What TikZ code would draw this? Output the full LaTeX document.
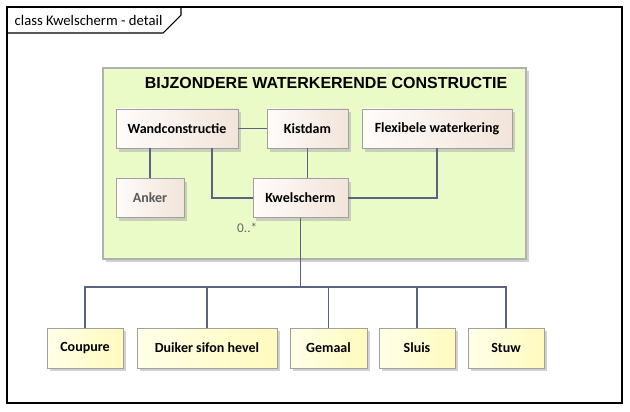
\documentclass[tikz,border=0pt]{standalone}
\usepackage{fontspec}
\setmainfont{Carlito}
\newfontfamily\pkgfont{Liberation Sans}
\usetikzlibrary{shadows}
\definecolor{pkggreen}{RGB}{235,251,200}
\definecolor{pkgline}{RGB}{176,176,176}
\definecolor{clsleft}{RGB}{255,252,250}
\definecolor{clsright}{RGB}{242,228,218}
\definecolor{ylwleft}{RGB}{255,255,232}
\definecolor{ylwright}{RGB}{255,250,190}
\definecolor{clsline}{RGB}{160,160,160}
\definecolor{link}{RGB}{90,100,128}

\begin{document}
\begin{tikzpicture}[x=0.75pt,y=-0.75pt,
  cls/.style={draw=clsline, shading=axis, shading angle=90, left color=clsleft, right color=clsright,
    minimum height=29.5pt, inner sep=0pt, font=\fontsize{10.5}{12}\selectfont\bfseries,
    drop shadow={shadow xshift=2.5pt, shadow yshift=-2.5pt, fill=black!30, opacity=0.6}},
  leaf/.style={cls, left color=ylwleft, right color=ylwright, minimum height=30pt},
  link/.style={draw=link, line width=0.8pt}]
\useasboundingbox (0,0) rectangle (630,411);

% frame
\draw [line width=0.8pt] (7,7) rectangle (622,403);
\draw [line width=0.8pt] (7,33) -- (163,33) -- (181,15) -- (181,7);
\node [anchor=west, font=\fontsize{11}{13}\selectfont] (frametitle) at (10,20) {class Kwelscherm - detail};

% package
\draw [pkgline, fill=pkggreen, line width=0.8pt, drop shadow={shadow xshift=2.5pt, shadow yshift=-2.5pt, fill=black!30, opacity=0.6}] (103,68) rectangle (526,259);
\node [font=\pkgfont\fontsize{12}{14}\selectfont\bfseries] (bwc) at (326,83) {BIJZONDERE WATERKERENDE CONSTRUCTIE};

% classes
\node [cls, minimum width=91.5pt] (wand) at (177,128.5) {Wandconstructie};
\node [cls, minimum width=60.75pt] (kistdam) at (307.5,128.5) {Kistdam};
\node [cls, minimum width=112.5pt] (flex) at (437,128.5) {Flexibele waterkering};
\node [cls, minimum width=51pt, text=black!65] (anker) at (150,198) {Anker};
\node [cls, minimum width=71.25pt] (kwel) at (300.5,198) {Kwelscherm};

\node [leaf, minimum width=57pt] (coupure) at (85,348) {Coupure};
\node [leaf, minimum width=105pt] (duiker) at (207,348) {Duiker sifon hevel};
\node [leaf, minimum width=57.75pt] (gemaal) at (328.5,348) {Gemaal};
\node [leaf, minimum width=57pt] (sluis) at (417,348) {Sluis};
\node [leaf, minimum width=57pt] (stuw) at (506,348) {Stuw};

% connectors
\draw [link] (wand) -- (kistdam);
\draw [link] (anker.north |- wand.south) -- (anker.north);
\draw [link] (wand.south) ++(35,0) |- (kwel.west);
\draw [link] (kistdam) -- (kistdam |- kwel.north);
\draw [link] (flex.south) |- (kwel.east);

\coordinate (split) at (300.5,287);
\draw [link] (kwel.south) -- (split);
\foreach \leafnode in {coupure,duiker,gemaal,sluis,stuw}
  \draw [link] (split) -| (\leafnode.north);
\node [anchor=east, text=black!60, font=\fontsize{10}{12}\selectfont] (mult) at (262,228) {0..*};
\end{tikzpicture}
\end{document}
